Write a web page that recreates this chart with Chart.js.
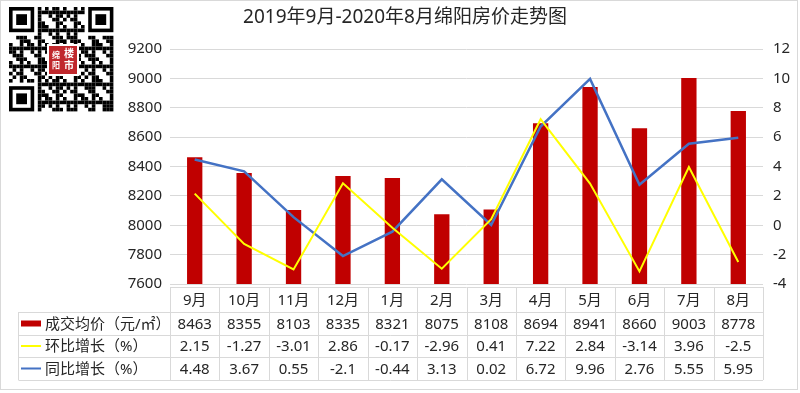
<!DOCTYPE html>
<html>
<head>
<meta charset="utf-8">
<title>绵阳房价走势图</title>
<script src="https://cdn.jsdelivr.net/npm/chart.js@4/dist/chart.umd.min.js"></script>
<style>
html, body { margin: 0; padding: 0; background: #fff; }
</style>
</head>
<body>
<canvas id="myChart" width="800" height="393"></canvas>
<script>
// data
var months = ['9月', '10月', '11月', '12月', '1月', '2月', '3月', '4月', '5月', '6月', '7月', '8月'];
var avgPrice = [8463, 8355, 8103, 8335, 8321, 8075, 8108, 8694, 8941, 8660, 9003, 8778];
var momGrowth = [2.15, -1.27, -3.01, 2.86, -0.17, -2.96, 0.41, 7.22, 2.84, -3.14, 3.96, -2.5];
var yoyGrowth = [4.48, 3.67, 0.55, -2.1, -0.44, 3.13, 0.02, 6.72, 9.96, 2.76, 5.55, 5.95];
var seriesNames = ['成交均价（元/㎡）', '环比增长（%）', '同比增长（%）'];
var titleText = '2019年9月-2020年8月绵阳房价走势图';

// axis ranges
var priceMin = 7600, priceMax = 9200, priceStep = 200;
var pctMin = -4, pctMax = 12, pctStep = 2;

var fontFamily = "'Noto Sans', 'Noto Sans CJK SC', sans-serif";
var textColor = '#262626';
var gridColor = '#d9d9d9';
var colors = ['#c00000', '#ffff00', '#4472c4'];

// title, data table and the qr code in the corner
var decorPlugin = {
    id: 'decor',
    afterDraw: function(chart) {
        var ctx = chart.ctx;
        var area = chart.chartArea;
        var x = chart.scales.x;
        var half = (area.right - area.left) / months.length / 2;
        ctx.save();

        // frame
        ctx.strokeStyle = gridColor;
        ctx.lineWidth = 1;
        ctx.strokeRect(0.5, 0.5, 797, 389);

        // title
        ctx.fillStyle = textColor;
        ctx.font = '19px ' + fontFamily;
        ctx.textAlign = 'center';
        ctx.textBaseline = 'middle';
        ctx.fillText(titleText, 405, 18);

        // table grid
        var top = area.bottom + 3;
        var rows = [top, top + 25, top + 48, top + 70, top + 93];
        var legendLeft = 18.5;
        ctx.strokeStyle = '#d9d9d9';
        ctx.beginPath();
        ctx.moveTo(area.left, rows[0] + 0.5);
        ctx.lineTo(area.right, rows[0] + 0.5);
        for (var r = 1; r < rows.length; r++) {
            ctx.moveTo(legendLeft, Math.round(rows[r]) + 0.5);
            ctx.lineTo(area.right, Math.round(rows[r]) + 0.5);
        }
        for (var i = 0; i <= months.length; i++) {
            var lx = Math.round(area.left + i * half * 2) + 0.5;
            ctx.moveTo(lx, rows[0]);
            ctx.lineTo(lx, rows[4]);
        }
        ctx.moveTo(legendLeft, rows[1]);
        ctx.lineTo(legendLeft, rows[4]);
        ctx.stroke();

        // table values
        var tableRows = [months, avgPrice, momGrowth, yoyGrowth];
        ctx.font = '15px ' + fontFamily;
        ctx.fillStyle = textColor;
        ctx.textAlign = 'center';
        for (var r = 0; r < tableRows.length; r++) {
            var cy = (rows[r] + rows[r + 1]) / 2 + 1;
            for (var i = 0; i < months.length; i++) {
                ctx.fillText(String(tableRows[r][i]), x.getPixelForValue(i), cy);
            }
        }

        // legend cells
        for (var s = 0; s < seriesNames.length; s++) {
            var cy = (rows[s + 1] + rows[s + 2]) / 2;
            ctx.fillStyle = colors[s];
            if (s === 0) {
                ctx.fillRect(21, cy - 3, 20, 6);
            } else {
                ctx.fillRect(21, cy - 1, 20, 2);
            }
            ctx.fillStyle = textColor;
            ctx.font = '15px ' + fontFamily;
            ctx.textAlign = 'left';
            ctx.fillText(seriesNames[s], 45, cy + 1);
        }

        // qr code
        var n = 29, size = 3.6, qx = 9, qy = 7;
        ctx.fillStyle = '#000';
        function finder(cx, cy) {
            ctx.fillRect(qx + cx * size, qy + cy * size, 7 * size, 7 * size);
            ctx.fillStyle = '#fff';
            ctx.fillRect(qx + (cx + 1) * size, qy + (cy + 1) * size, 5 * size, 5 * size);
            ctx.fillStyle = '#000';
            ctx.fillRect(qx + (cx + 2) * size, qy + (cy + 2) * size, 3 * size, 3 * size);
        }
        for (var a = 0; a < n; a++) {
            for (var b = 0; b < n; b++) {
                var inFinder = (a < 8 && b < 8) || (a < 8 && b > n - 9) || (a > n - 9 && b < 8);
                if (inFinder) continue;
                if (((a * 7 + b * 11 + a * b * 3) % 5) < 2 || ((a ^ b) % 3 === 0 && (a + b) % 2 === 0)) {
                    ctx.fillRect(qx + a * size, qy + b * size, size, size);
                }
            }
        }
        finder(0, 0);
        finder(n - 7, 0);
        finder(0, n - 7);
        // logo
        ctx.fillStyle = '#fff';
        ctx.fillRect(47, 44, 32, 32);
        ctx.fillStyle = '#c0282d';
        ctx.fillRect(49, 46, 28, 28);
        ctx.fillStyle = '#fff';
        ctx.font = 'bold 8px ' + fontFamily;
        ctx.textAlign = 'center';
        ctx.fillText('绵', 56, 56);
        ctx.fillText('阳', 56, 66);
        ctx.font = 'bold 10px ' + fontFamily;
        ctx.fillText('楼', 69, 54);
        ctx.fillText('市', 69, 66);

        ctx.restore();
    }
};

var ctx = document.getElementById('myChart').getContext('2d');
var myChart = new Chart(ctx, {
    type: 'bar',
    data: {
        labels: months,
        datasets: [{
            type: 'line',
            label: seriesNames[1],
            data: momGrowth,
            yAxisID: 'y1',
            borderColor: colors[1],
            backgroundColor: colors[1],
            borderWidth: 2,
            pointRadius: 0,
            tension: 0,
            order: 1
        },
        {
            type: 'line',
            label: seriesNames[2],
            data: yoyGrowth,
            yAxisID: 'y1',
            borderColor: colors[2],
            backgroundColor: colors[2],
            borderWidth: 2.5,
            pointRadius: 0,
            tension: 0,
            order: 2
        },
        {
            type: 'bar',
            label: seriesNames[0],
            data: avgPrice,
            yAxisID: 'y',
            backgroundColor: colors[0],
            barPercentage: 0.31,
            categoryPercentage: 1,
            order: 3
        }]
    },
    options: {
        responsive: false,
        animation: false,
        layout: {
            padding: { left: 120, right: 0, top: 49, bottom: 109 }
        },
        plugins: {
            legend: { display: false },
            title: { display: false },
            tooltip: { enabled: false }
        },
        scales: {
            x: {
                display: false
            },
            y: {
                position: 'left',
                min: priceMin,
                max: priceMax,
                afterFit: function(axis) { axis.width = 50; },
                ticks: {
                    stepSize: priceStep,
                    padding: 8,
                    color: textColor,
                    font: { size: 15, family: fontFamily },
                    callback: function(value) { return String(value); }
                },
                grid: { color: gridColor, drawTicks: false },
                border: { display: false }
            },
            y1: {
                position: 'right',
                min: pctMin,
                max: pctMax,
                afterFit: function(axis) { axis.width = 37; },
                ticks: {
                    stepSize: pctStep,
                    padding: 10,
                    color: textColor,
                    font: { size: 15, family: fontFamily }
                },
                grid: { display: false, drawTicks: false },
                border: { display: false }
            }
        }
    },
    plugins: [decorPlugin]
});
</script>
</body>
</html>
